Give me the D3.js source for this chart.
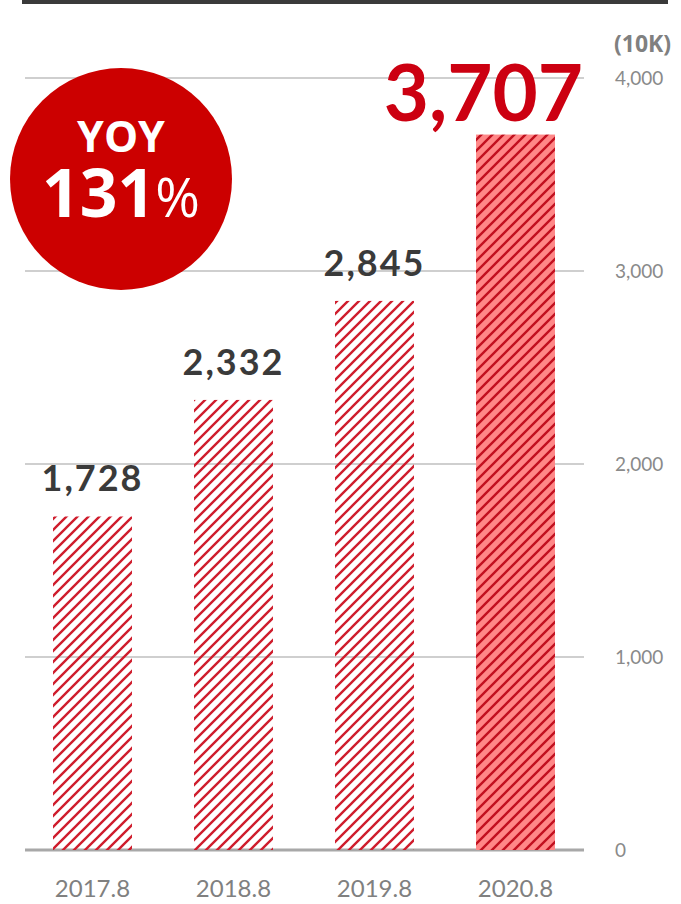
<!DOCTYPE html>
<html>
<head>
<meta charset="utf-8">
<script src="https://cdn.jsdelivr.net/npm/d3@7"></script>
<style>
  html, body { margin: 0; padding: 0; background: #fff; }
  svg { display: block; }
</style>
</head>
<body>
<script>
// Annual figures, in units of 10K
const categories = ["2017.8", "2018.8", "2019.8", "2020.8"];
const values = [1728, 2332, 2845, 3707];
const valueLabels = ["1,728", "2,332", "2,845", "3,707"];
const tickValues = [0, 1000, 2000, 3000, 4000];
const tickLabels = ["0", "1,000", "2,000", "3,000", "4,000"];
const unitLabel = "(10K)";
const yoyTitle = "YOY";
const yoyValue = "131";

const W = 681, H = 904;
const svg = d3.select("body").append("svg").attr("width", W).attr("height", H);

const defs = svg.append("defs");
function hatch(id, bg, stroke) {
  const s = 11;
  const p = defs.append("pattern").attr("id", id)
    .attr("patternUnits", "userSpaceOnUse").attr("width", s).attr("height", s);
  if (bg) p.append("rect").attr("width", s).attr("height", s).attr("fill", bg);
  p.append("path").attr("d", `M-1,1 l2,-2 M0,${s} l${s},-${s} M${s - 1},${s + 1} l2,-2`)
    .attr("stroke", stroke).attr("stroke-width", 2.4);
}
hatch("hatchLight", null, "#cf1c2c");
hatch("hatchDark", "#ff8787", "#c20f1e");

// Top rule
svg.append("rect").attr("x", 22).attr("y", 0).attr("width", 646).attr("height", 4).attr("fill", "#3a3a3a");

const y = d3.scaleLinear().domain([0, 4000]).range([850, 78]);
const x = d3.scaleBand().domain(categories).range([22, 586]).paddingInner(0.44).paddingOuter(0.22);

// Gridlines
svg.append("g").selectAll("line").data(tickValues).join("line")
  .attr("x1", 25).attr("x2", 584)
  .attr("y1", d => y(d)).attr("y2", d => y(d))
  .attr("stroke", d => d === 0 ? "#a8a8a8" : "#cfcfcf")
  .attr("stroke-width", d => d === 0 ? 3 : 2);

// Right axis
const axis = d3.axisRight(y).tickValues(tickValues)
  .tickFormat((d, i) => tickLabels[i]).tickSize(0).tickPadding(0);
const ag = svg.append("g").attr("transform", "translate(615,0)").call(axis);
ag.select(".domain").remove();
ag.selectAll("text").attr("fill", "#8a8a8a")
  .style("font-family", "Lato, 'Open Sans', sans-serif").style("font-size", "19px")
  .attr("dy", "0.35em");

svg.append("text").attr("x", 614).attr("y", 52).text(unitLabel)
  .attr("fill", "#808080").style("font-family", "'Open Sans', sans-serif")
  .style("font-weight", "700").style("font-size", "23px");

// Bars
const last = values.length - 1;
svg.append("g").selectAll("rect").data(values).join("rect")
  .attr("x", (d, i) => x(categories[i]))
  .attr("width", x.bandwidth())
  .attr("y", d => y(d))
  .attr("height", d => y(0) - y(d))
  .attr("fill", (d, i) => i === last ? "url(#hatchDark)" : "url(#hatchLight)");

// Value labels
svg.append("g").selectAll("text").data(values).join("text")
  .attr("x", (d, i) => i === last ? 583 : x(categories[i]) + x.bandwidth() / 2)
  .attr("y", (d, i) => i === last ? y(d) - 14 : y(d) - 25)
  .attr("text-anchor", (d, i) => i === last ? "end" : "middle")
  .attr("fill", (d, i) => i === last ? "#cc0011" : "#3a3a3a")
  .style("font-family", "Lato, 'Open Sans', sans-serif")
  .style("font-weight", "700")
  .style("letter-spacing", (d, i) => i === last ? "0px" : "2px")
  .style("font-size", (d, i) => i === last ? "78px" : "36px")
  .text((d, i) => valueLabels[i]);

// Category labels
svg.append("g").selectAll("text").data(categories).join("text")
  .attr("x", d => x(d) + x.bandwidth() / 2)
  .attr("y", 897)
  .attr("text-anchor", "middle")
  .attr("fill", "#808080")
  .style("font-family", "Lato, 'Open Sans', sans-serif")
  .style("font-size", "24px")
  .text(d => d);

// YOY badge
const badge = svg.append("g").attr("transform", "translate(121,179)");
badge.append("circle").attr("r", 111).attr("fill", "#cc0000");
badge.append("text").attr("y", -27).attr("text-anchor", "middle").attr("fill", "#fff")
  .style("font-family", "'Open Sans', sans-serif").style("font-weight", "700")
  .style("font-size", "43px").text(yoyTitle);
const big = badge.append("text").attr("y", 38).attr("text-anchor", "middle").attr("fill", "#fff")
  .style("font-family", "'Open Sans', sans-serif").style("font-weight", "700");
big.append("tspan").style("font-size", "66px").text(yoyValue);
big.append("tspan").style("font-size", "54px").style("font-weight", "400").text("%");
</script>
</body>
</html>
